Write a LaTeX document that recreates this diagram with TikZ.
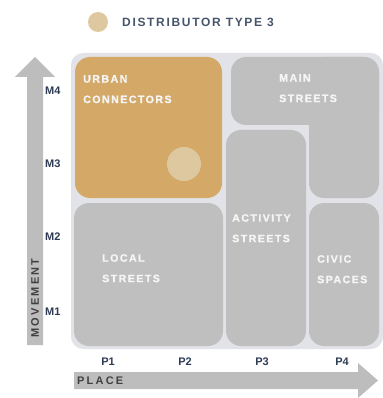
\documentclass[tikz,border=0pt]{standalone}
\usepackage{fontspec}
\setmainfont{Liberation Sans}
\newfontfamily\labfont[LetterSpace=13,UprightFont={* Bold},FakeBold=1.2]{Liberation Sans}
\newfontfamily\legfont[LetterSpace=14,UprightFont={* Bold}]{Liberation Sans}
\newfontfamily\axfont[LetterSpace=20,UprightFont={* Bold}]{Liberation Sans}
\newfontfamily\numfont[UprightFont={* Bold}]{Liberation Sans}
\definecolor{panel}{HTML}{E1E3E8}
\definecolor{boxgray}{HTML}{BFBFBF}
\definecolor{urban}{HTML}{D4A867}
\definecolor{tan}{HTML}{DEC8A0}
\definecolor{arrowgray}{HTML}{BDBDBD}
\definecolor{navy}{HTML}{2E3B55}
\definecolor{legtext}{HTML}{46556A}
\definecolor{axtext}{HTML}{404040}
\begin{document}
\begin{tikzpicture}[x=1pt,y=-1pt,
  lab/.style={text=white!96!black, font={\labfont\fontsize{10.7}{20.5}\selectfont}, align=left, anchor=north west, inner sep=0pt},
  mlab/.style={text=navy, font={\numfont\fontsize{11}{13}\selectfont}, anchor=west, inner sep=0pt},
  plab/.style={text=navy, font={\numfont\fontsize{11}{13}\selectfont}, anchor=center, inner sep=0pt},
  axlab/.style={text=axtext, font={\axfont\fontsize{11}{13}\selectfont}, inner sep=0pt}]
\useasboundingbox (0,0) rectangle (382,398);
% legend
\fill[tan] (98,22) circle (10);
\node[text=legtext, font={\legfont\fontsize{12}{14}\selectfont}, anchor=west, inner sep=0pt] (legend) at (122,22) {DISTRIBUTOR TYPE 3};
% panel
\fill[panel, rounded corners=12] (71,53) rectangle (383,349);
% urban connectors
\fill[urban, rounded corners=15] (75,57) rectangle (222,198);
\fill[tan] (184,164) circle (17);
% main streets (L shape)
\fill[boxgray, rounded corners=15] (231,57) rectangle (379,125);
\fill[boxgray, rounded corners=15] (309,57) rectangle (379,198);
% activity streets
\fill[boxgray, rounded corners=15] (226,130) rectangle (306,346);
% civic spaces
\fill[boxgray, rounded corners=15] (309,203) rectangle (379,346);
% local streets
\fill[boxgray, rounded corners=15] (74,203) rectangle (223,346);
% labels
\node[lab] (urbanlab) at (83,75) {URBAN\\CONNECTORS};
\node[lab] (mainlab) at (279,74) {MAIN\\STREETS};
\node[lab] (actlab) at (232,214) {ACTIVITY\\STREETS};
\node[lab] (civiclab) at (317,255) {CIVIC\\SPACES};
\node[lab] (locallab) at (102,254) {LOCAL\\STREETS};
% vertical arrow
\fill[arrowgray] (27,345) -- (27,77) -- (15,77) -- (35,57) -- (55,77) -- (43,77) -- (43,345) -- cycle;
\node[axlab, rotate=90] (movement) at (35,298) {MOVEMENT};
% horizontal arrow
\fill[arrowgray] (74,372) -- (358,372) -- (358,363) -- (378,380.5) -- (358,398) -- (358,389) -- (74,389) -- cycle;
\node[axlab, anchor=west] (place) at (77,381) {PLACE};
% axis labels
\node[mlab] (m4) at (45,91) {M4};
\node[mlab] (m3) at (45,164) {M3};
\node[mlab] (m2) at (45,237) {M2};
\node[mlab] (m1) at (45,312) {M1};
\node[plab] (p1) at (108,362) {P1};
\node[plab] (p2) at (185,362) {P2};
\node[plab] (p3) at (262,362) {P3};
\node[plab] (p4) at (342,362) {P4};
\end{tikzpicture}
\end{document}
